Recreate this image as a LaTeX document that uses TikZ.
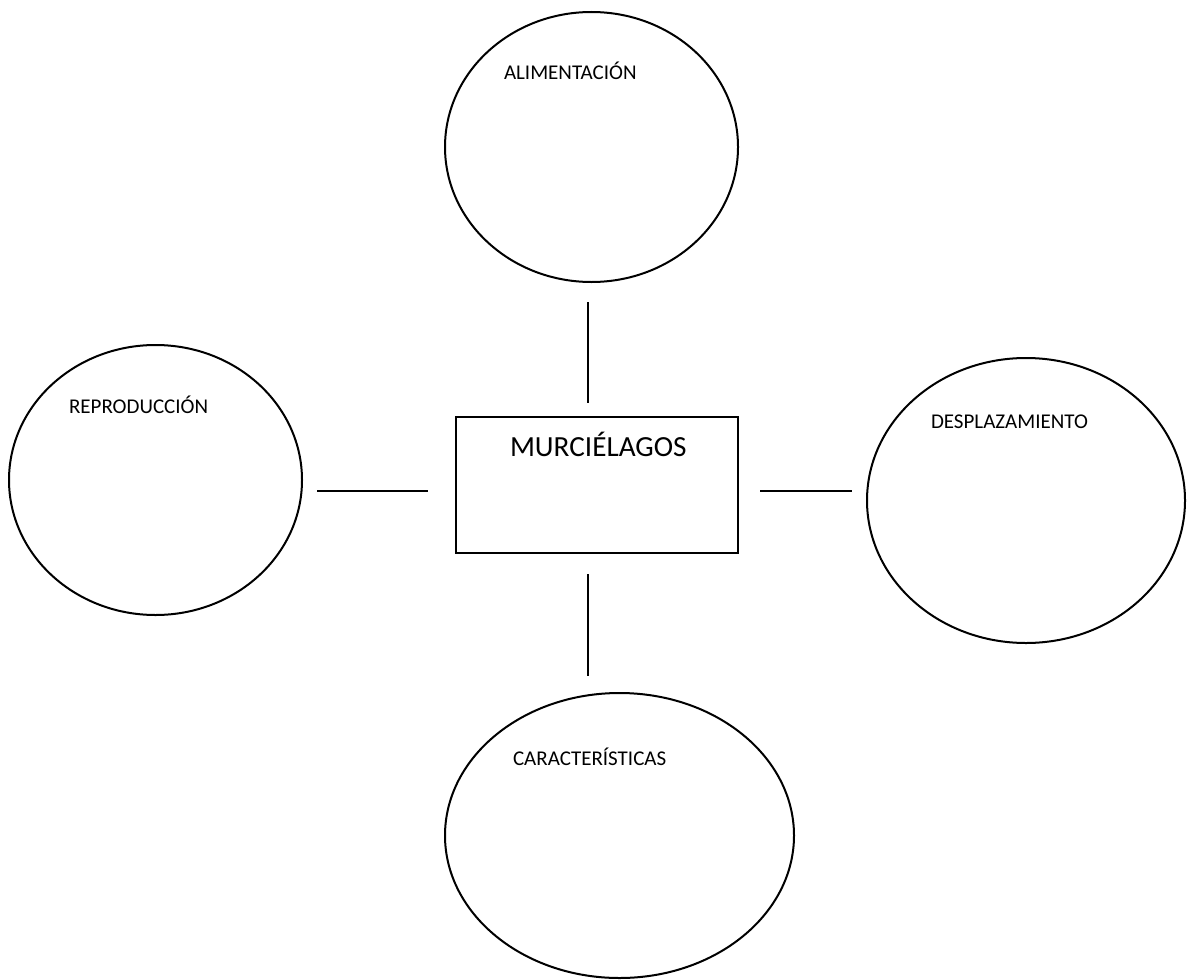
\documentclass[tikz,border=0pt]{standalone}
\usepackage{fontspec}
\setmainfont{Carlito}
\usetikzlibrary{shapes.geometric}

\begin{document}
\begin{tikzpicture}[x=0.5pt, y=-0.5pt, line width=1pt,
    bubble/.style={ellipse, draw=black, inner sep=0pt},
    tag/.style={anchor=base west, inner sep=0pt, font=\fontsize{10.5}{12}\selectfont}]
      \useasboundingbox (0,0) rectangle (1187,979);

      \node[bubble, minimum width=146.5pt, minimum height=135pt] (alim) at (591.5,147) {};
      \node[bubble, minimum width=146.5pt, minimum height=135pt] (repro) at (155.5,480) {};
      \node[bubble, minimum width=159pt, minimum height=142.5pt] (despl) at (1026,500.5) {};
      \node[bubble, minimum width=174.5pt, minimum height=142.5pt] (carac) at (619.5,835.5) {};
      \node[draw=black, rectangle, minimum width=141pt, minimum height=68pt, inner sep=0pt] (murc) at (597,485) {};

      \node[tag] (talim) at (503,80) {ALIMENTACIÓN};
      \node[tag] (trepro) at (68,413) {REPRODUCCIÓN};
      \node[tag] (tdespl) at (930,428) {DESPLAZAMIENTO};
      \node[tag] (tcarac) at (512,765) {CARACTERÍSTICAS};
      \node[tag, font=\fontsize{14.6}{17}\selectfont] (tmurc) at (509,456) {MURCIÉLAGOS};

      \coordinate (up1) at (588,302);  \coordinate (up2) at (588,403);
      \coordinate (dn1) at (588,574);  \coordinate (dn2) at (588,676);
      \coordinate (lf1) at (317,491);  \coordinate (lf2) at (428,491);
      \coordinate (rt1) at (760,491);  \coordinate (rt2) at (852,491);

      \draw (up1) -- (up2);
      \draw (dn1) -- (dn2);
      \draw (lf1) -- (lf2);
      \draw (rt1) -- (rt2);
    \end{tikzpicture}
\end{document}
